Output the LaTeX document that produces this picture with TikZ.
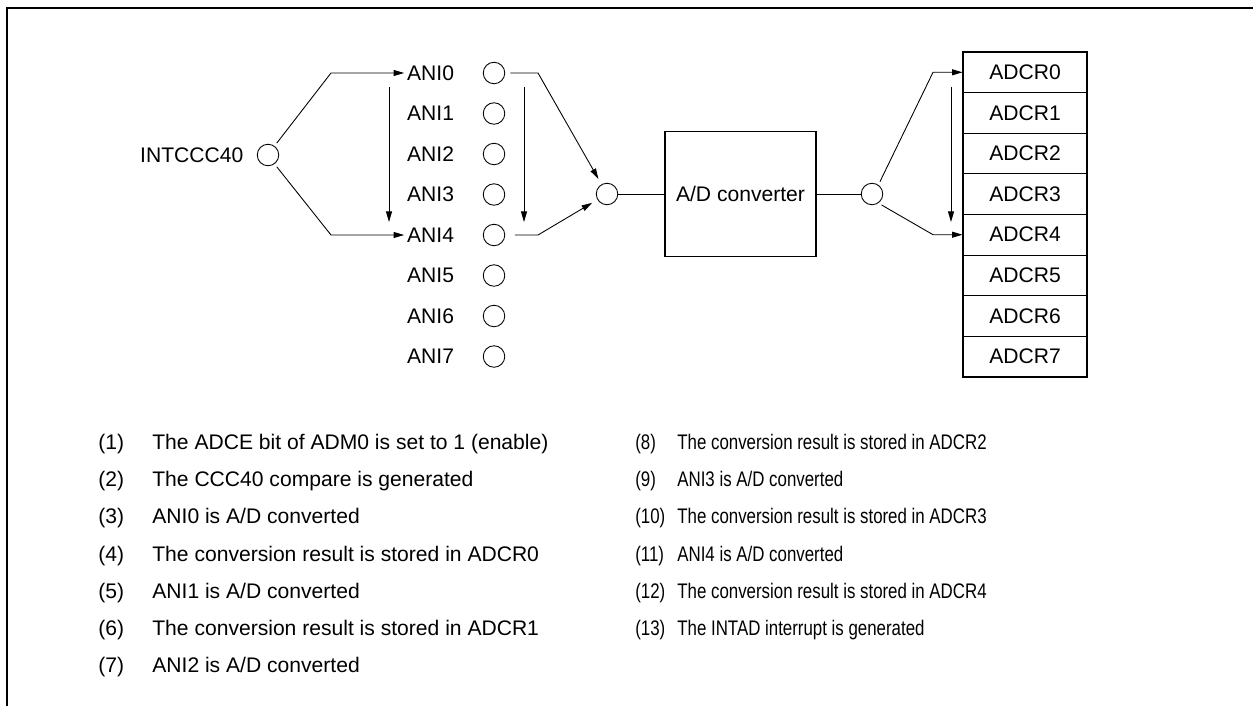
\documentclass[tikz,border=0pt]{standalone}
\usepackage{fontspec}
\setmainfont{Liberation Sans}
\usepackage{tikz}
\usetikzlibrary{arrows.meta}
\usetikzlibrary{positioning}
\tikzset{
    port/.style={
        circle,
        draw,
        line width=0.5pt,
        minimum size=0.43cm,
        inner sep=0pt
    },
    lbl/.style={
        inner sep=1.5pt,
        font=\fontsize{12}{14}\selectfont
    },
    wire/.style={
        line width=0.5pt
    },
    flow/.style={
        line width=0.5pt,
        -{Triangle[length=6pt, width=3.4pt]}
    },
    adcbox/.style={
        draw,
        line width=1.1pt,
        minimum width=3.02cm,
        minimum height=2.5cm,
        inner sep=0pt,
        font=\fontsize{12}{14}\selectfont
    },
    regcell/.style={
        draw,
        line width=0.5pt,
        minimum width=2.48cm,
        minimum height=0.812cm,
        inner sep=0pt,
        font=\fontsize{12}{14}\selectfont
    },
    legnum/.style={
        anchor=base west,
        inner sep=0pt,
        font=\fontsize{12}{14}\selectfont
    },
    legtxt/.style={legnum}
}

\begin{document}
\begin{tikzpicture}[x=0.02cm, y=-0.02cm]
	\useasboundingbox (0,0) rectangle (1253,706);
	\draw[line width=0.9pt] (1253,8) -- (7,8) -- (7,706);

	% trigger and analog inputs
	\node [port] (int) at (268,155) {};
	\node [lbl, left=6pt of int] (intlbl) {INTCCC40};

	\node [lbl, anchor=east] (anilbl0) at (457,73) {ANI0};
	\node [lbl, anchor=east] (anilbl1) at (457,113.5) {ANI1};
	\node [lbl, anchor=east] (anilbl2) at (457,154) {ANI2};
	\node [lbl, anchor=east] (anilbl3) at (457,194.5) {ANI3};
	\node [lbl, anchor=east] (anilbl4) at (457,235) {ANI4};
	\node [lbl, anchor=east] (anilbl5) at (457,275.5) {ANI5};
	\node [lbl, anchor=east] (anilbl6) at (457,316) {ANI6};
	\node [lbl, anchor=east] (anilbl7) at (457,356.5) {ANI7};

	\node [port] (ani0) at (494,73) {};
	\node [port] (ani1) at (494,113.5) {};
	\node [port] (ani2) at (494,154) {};
	\node [port] (ani3) at (494,194.5) {};
	\node [port] (ani4) at (494,235) {};
	\node [port] (ani5) at (494,275.5) {};
	\node [port] (ani6) at (494,316) {};
	\node [port] (ani7) at (494,356.5) {};

	\draw[flow, shorten <=2pt] (int.54) -- (331,73) -- (anilbl0.west);
	\draw[flow, shorten <=2pt] (int.-54) -- (331,235) -- (anilbl4.west);

	\coordinate (scanL0) at (389,87);
	\coordinate (scanL1) at (389,222);
	\coordinate (scanM0) at (524,87);
	\coordinate (scanM1) at (524,222);
	\draw[flow] (scanL0) -- (scanL1);
	\draw[flow] (scanM0) -- (scanM1);

	% converter
	\node [port] (mux) at (607,194) {};
	\node [adcbox] (adc) at (740.5,194) {A/D converter};
	\node [port] (demux) at (872,194) {};

	\draw[flow, shorten <=3pt, shorten >=3.5pt] (ani0.east) -- (538,73) -- (mux);
	\draw[flow, shorten <=5.5pt, shorten >=3.5pt] (ani4.east) -- (538,235) -- (mux);
	\draw[wire] (mux.east) -- (adc.west);
	\draw[wire] (adc.east) -- (demux.west);

	% result registers
	\node [regcell] (reg0) at (1025,72.3) {ADCR0};
	\node [regcell] (reg1) at (1025,112.9) {ADCR1};
	\node [regcell] (reg2) at (1025,153.5) {ADCR2};
	\node [regcell] (reg3) at (1025,194.1) {ADCR3};
	\node [regcell] (reg4) at (1025,234.7) {ADCR4};
	\node [regcell] (reg5) at (1025,275.3) {ADCR5};
	\node [regcell] (reg6) at (1025,315.9) {ADCR6};
	\node [regcell] (reg7) at (1025,356.5) {ADCR7};
	\draw[line width=1.1pt] (reg0.north west) rectangle (reg7.south east);

	\draw[flow, shorten <=2pt] (demux.55) -- (933,72.3) -- (reg0.west);
	\draw[flow, shorten <=2pt] (demux.-55) -- (933,234.7) -- (reg4.west);

	\coordinate (scanR0) at (951,87);
	\coordinate (scanR1) at (951,222);
	\draw[flow] (scanR0) -- (scanR1);

	% legend
	\node [legnum] (num1) at (98,449.5) {(1)};
	\node [legnum] (num2) at (98,486.7) {(2)};
	\node [legnum] (num3) at (98,523.9) {(3)};
	\node [legnum] (num4) at (98,561.1) {(4)};
	\node [legnum] (num5) at (98,598.3) {(5)};
	\node [legnum] (num6) at (98,635.5) {(6)};
	\node [legnum] (num7) at (98,672.7) {(7)};
	\node [legtxt] (txt1) at (152,449.5) {The ADCE bit of ADM0 is set to 1 (enable)};
	\node [legtxt] (txt2) at (152,486.7) {The CCC40 compare is generated};
	\node [legtxt] (txt3) at (152,523.9) {ANI0 is A/D converted};
	\node [legtxt] (txt4) at (152,561.1) {The conversion result is stored in ADCR0};
	\node [legtxt] (txt5) at (152,598.3) {ANI1 is A/D converted};
	\node [legtxt] (txt6) at (152,635.5) {The conversion result is stored in ADCR1};
	\node [legtxt] (txt7) at (152,672.7) {ANI2 is A/D converted};

	\node [legnum] (num8) at (635,449.5) {\scalebox{0.8}[1]{(8)}};
	\node [legnum] (num9) at (635,486.7) {\scalebox{0.8}[1]{(9)}};
	\node [legnum] (num10) at (635,523.9) {\scalebox{0.8}[1]{(10)}};
	\node [legnum] (num11) at (635,561.1) {\scalebox{0.8}[1]{(11)}};
	\node [legnum] (num12) at (635,598.3) {\scalebox{0.8}[1]{(12)}};
	\node [legnum] (num13) at (635,635.5) {\scalebox{0.8}[1]{(13)}};
	\node [legtxt] (txt8) at (677,449.5) {\scalebox{0.8}[1]{The conversion result is stored in ADCR2}};
	\node [legtxt] (txt9) at (677,486.7) {\scalebox{0.8}[1]{ANI3 is A/D converted}};
	\node [legtxt] (txt10) at (677,523.9) {\scalebox{0.8}[1]{The conversion result is stored in ADCR3}};
	\node [legtxt] (txt11) at (677,561.1) {\scalebox{0.8}[1]{ANI4 is A/D converted}};
	\node [legtxt] (txt12) at (677,598.3) {\scalebox{0.8}[1]{The conversion result is stored in ADCR4}};
	\node [legtxt] (txt13) at (677,635.5) {\scalebox{0.8}[1]{The INTAD interrupt is generated}};
\end{tikzpicture}
\end{document}
